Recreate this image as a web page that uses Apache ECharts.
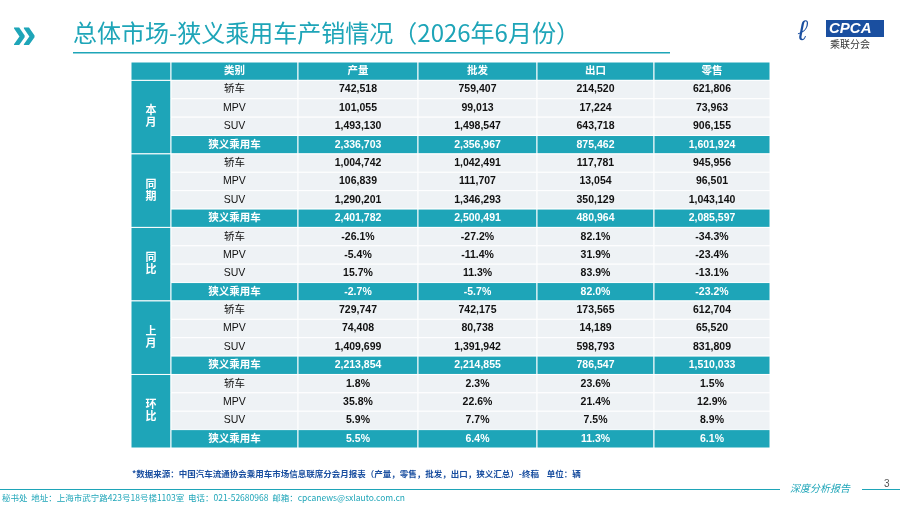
<!DOCTYPE html>
<html><head><meta charset="utf-8">
<script src="https://cdn.jsdelivr.net/npm/echarts@6/dist/echarts.min.js"></script>
<style>html,body{margin:0;padding:0;background:#fff}#main{width:900px;height:507px}</style>
</head><body><div id="main"></div>
<script>
var columns = ['类别', '产量', '批发', '出口', '零售'];
var groups = ['本月', '同期', '同比', '上月', '环比'];
var types = ['轿车', 'MPV', 'SUV', '狭义乘用车'];
var benyue = [['742,518', '759,407', '214,520', '621,806'], ['101,055', '99,013', '17,224', '73,963'], ['1,493,130', '1,498,547', '643,718', '906,155'], ['2,336,703', '2,356,967', '875,462', '1,601,924']];
var tongqi = [['1,004,742', '1,042,491', '117,781', '945,956'], ['106,839', '111,707', '13,054', '96,501'], ['1,290,201', '1,346,293', '350,129', '1,043,140'], ['2,401,782', '2,500,491', '480,964', '2,085,597']];
var tongbi = [['-26.1%', '-27.2%', '82.1%', '-34.3%'], ['-5.4%', '-11.4%', '31.9%', '-23.4%'], ['15.7%', '11.3%', '83.9%', '-13.1%'], ['-2.7%', '-5.7%', '82.0%', '-23.2%']];
var shangyue = [['729,747', '742,175', '173,565', '612,704'], ['74,408', '80,738', '14,189', '65,520'], ['1,409,699', '1,391,942', '598,793', '831,809'], ['2,213,854', '2,214,855', '786,547', '1,510,033']];
var huanbi = [['1.8%', '2.3%', '23.6%', '1.5%'], ['35.8%', '22.6%', '21.4%', '12.9%'], ['5.9%', '7.7%', '7.5%', '8.9%'], ['5.5%', '6.4%', '11.3%', '6.1%']];
var blocks = [benyue, tongqi, tongbi, shangyue, huanbi];

var colEdges = [0, 40, 167, 287, 406, 523, 639];
var TEAL = '#1ea5b8';
var cells = [];
// header: [col, row, text, kind, span]
cells.push([0, 0, '', 'head', 1]);
columns.forEach(function (c, i) { cells.push([i + 1, 0, c, 'head', 1]); });
blocks.forEach(function (blk, g) {
  var r0 = 1 + g * 4;
  cells.push([0, r0, groups[g].split('').join('\n'), 'group', 4]);
  types.forEach(function (t, k) {
    var kind = k === 3 ? 'total' : 'body';
    cells.push([1, r0 + k, t, kind === 'total' ? 'total' : 'type', 1]);
    blk[k].forEach(function (v, j) { cells.push([j + 2, r0 + k, v, kind, 1]); });
  });
});
var rowCats = [];
for (var i = 0; i < 21; i++) rowCats.push(String(i));

var chart = echarts.init(document.getElementById('main'));
chart.setOption({
  animation: false,
  grid: { left: 131, right: 130, top: 62, bottom: 59 },
  xAxis: { type: 'value', min: 0, max: 639, show: false },
  yAxis: { type: 'category', data: rowCats, inverse: true, show: false },
  series: [{
    type: 'custom',
    data: cells,
    renderItem: function (params, api) {
      var c = api.value(0), r = api.value(1), span = api.value(4);
      var kind = cells[params.dataIndex][3], text = cells[params.dataIndex][2];
      var h = api.size([0, 1])[1];
      var p0 = api.coord([colEdges[c], r]);
      var p1 = api.coord([colEdges[c + 1], r]);
      var x = p0[0], y = p0[1] - h / 2, w = p1[0] - p0[0], hh = h * span;
      var fill = (kind === 'body' || kind === 'type') ? '#eef2f5' : TEAL;
      var color = (kind === 'body' || kind === 'type') ? '#111' : '#fff';
      var weight = kind === 'type' ? 'normal' : 'bold';
      return {
        type: 'group',
        children: [{
          type: 'rect', shape: { x: x, y: y, width: w, height: hh },
          style: { fill: fill, stroke: '#fff', lineWidth: 1 }
        }, {
          type: 'text',
          style: {
            x: x + w / 2, y: y + hh / 2, text: text, align: 'center', verticalAlign: 'middle',
            fill: color, fontSize: kind === 'group' ? 11 : 10.5, fontWeight: weight,
            fontFamily: 'Arial, "Noto Sans CJK SC"', lineHeight: 12
          }
        }]
      };
    }
  }],
  graphic: [
    { type: 'text', left: 12, top: 14, style: { text: '»', fontSize: 44, fontWeight: 'bold', fill: TEAL, fontFamily: 'Arial' } },
    { type: 'text', left: 73, top: 21, style: { text: '总体市场-狭义乘用车产销情况（2026年6月份）', fontSize: 24, fill: TEAL, fontFamily: '"Noto Sans CJK SC"' } },
    { type: 'rect', shape: { x: 73, y: 52, width: 597, height: 1.5 }, style: { fill: TEAL } },
    { type: 'rect', shape: { x: 826, y: 20, width: 58, height: 17 }, style: { fill: '#1a4fa0' } },
    { type: 'text', left: 829, top: 21, style: { text: 'CPCA', fontSize: 15, fontWeight: 'bold', fontStyle: 'italic', fill: '#fff', fontFamily: 'Arial' } },
    { type: 'text', left: 830, top: 39, style: { text: '乘联分会', fontSize: 10, fill: '#333', fontFamily: '"Noto Sans CJK SC"' } },
    { type: 'text', left: 798, top: 18, style: { text: 'ℓ', fontSize: 28, fontStyle: 'italic', fill: '#1a4fa0' } },
    { type: 'text', left: 132, top: 470, style: { text: '*数据来源：中国汽车流通协会乘用车市场信息联席分会月报表（产量，零售，批发，出口，狭义汇总）-终稿    单位：辆', fontSize: 8.5, fontWeight: 'bold', fill: '#1a4fa0', fontFamily: '"Noto Sans CJK SC"' } },
    { type: 'rect', shape: { x: 0, y: 489, width: 780, height: 1 }, style: { fill: TEAL } },
    { type: 'rect', shape: { x: 862, y: 489, width: 38, height: 1 }, style: { fill: TEAL } },
    { type: 'text', left: 790, top: 483, style: { text: '深度分析报告', fontSize: 10, fontStyle: 'italic', fill: TEAL, fontFamily: '"Noto Sans CJK SC"' } },
    { type: 'text', left: 884, top: 479, style: { text: '3', fontSize: 10, fill: '#555' } },
    { type: 'text', left: 2, top: 494, style: { text: '秘书处  地址：上海市武宁路423号18号楼1103室  电话：021-52680968  邮箱：cpcanews@sxlauto.com.cn', fontSize: 8.5, fill: TEAL, fontFamily: '"Noto Sans CJK SC"' } }
  ]
});
</script>
</body></html>
